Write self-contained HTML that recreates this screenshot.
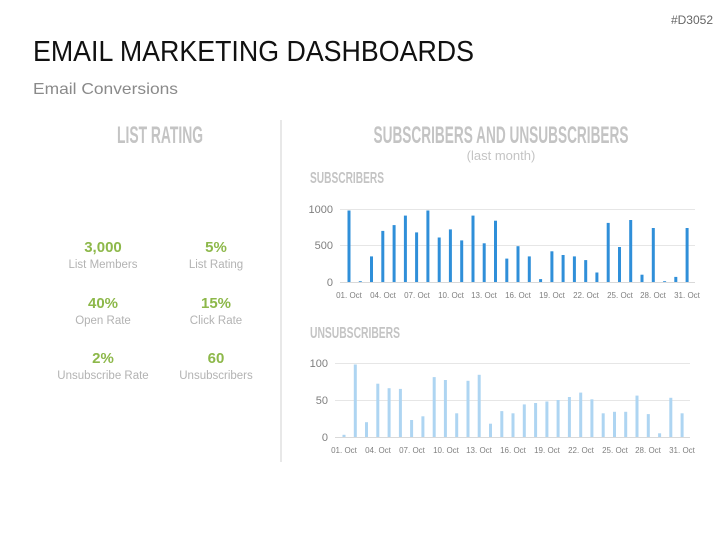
<!DOCTYPE html>
<html><head><meta charset="utf-8"><style>
html,body{margin:0;padding:0;background:#fff;width:727px;height:545px;overflow:hidden}
svg{display:block}
.h{font-family:"Liberation Sans Narrow","Liberation Sans",sans-serif;font-weight:bold;fill:#c4c4c4}
.v{font-family:"Liberation Sans",sans-serif;font-weight:bold;fill:#8db84a;font-size:15px}
.l{font-family:"Liberation Sans",sans-serif;fill:#b3b3b3;font-size:11.5px}
.t{font-family:"Liberation Sans",sans-serif;fill:#7f7f7f;font-size:8px}
.y{font-family:"Liberation Sans",sans-serif;fill:#7f7f7f;font-size:11px}
</style></head><body>
<svg width="727" height="545" viewBox="0 0 727 545">
<text x="713" y="24" text-anchor="end" font-family="Liberation Sans Narrow,Liberation Sans,sans-serif" font-size="12" fill="#666">#D3052</text>
<text x="33" y="61" font-family="Liberation Sans,sans-serif" font-size="29" fill="#111" textLength="441" lengthAdjust="spacingAndGlyphs">EMAIL MARKETING DASHBOARDS</text>
<text x="33" y="94" font-family="Liberation Sans,sans-serif" font-size="16" fill="#8a8a8a" textLength="145" lengthAdjust="spacingAndGlyphs">Email Conversions</text>
<line x1="281" y1="120" x2="281" y2="462" stroke="#d0d0d0" stroke-width="1"/>
<text class="h" x="160" y="143" font-size="24" text-anchor="middle" textLength="86" lengthAdjust="spacingAndGlyphs">LIST RATING</text>
<text class="h" x="501" y="143" font-size="24" text-anchor="middle" textLength="255" lengthAdjust="spacingAndGlyphs">SUBSCRIBERS AND UNSUBSCRIBERS</text>
<text x="501" y="160" text-anchor="middle" font-family="Liberation Sans,sans-serif" font-size="13" fill="#c4c4c4">(last month)</text>
<text class="h" x="310" y="183" font-size="16" textLength="74" lengthAdjust="spacingAndGlyphs">SUBSCRIBERS</text>
<text class="h" x="310" y="338" font-size="16" textLength="90" lengthAdjust="spacingAndGlyphs">UNSUBSCRIBERS</text>

<text class="v" x="103" y="252" text-anchor="middle">3,000</text><text class="l" x="103" y="268" text-anchor="middle">List Members</text>
<text class="v" x="216" y="252" text-anchor="middle">5%</text><text class="l" x="216" y="268" text-anchor="middle">List Rating</text>
<text class="v" x="103" y="308" text-anchor="middle">40%</text><text class="l" x="103" y="324" text-anchor="middle">Open Rate</text>
<text class="v" x="216" y="308" text-anchor="middle">15%</text><text class="l" x="216" y="324" text-anchor="middle">Click Rate</text>
<text class="v" x="103" y="363" text-anchor="middle">2%</text><text class="l" x="103" y="379" text-anchor="middle">Unsubscribe Rate</text>
<text class="v" x="216" y="363" text-anchor="middle">60</text><text class="l" x="216" y="379" text-anchor="middle">Unsubscribers</text>

<g stroke="#e6e6e6" stroke-width="1">
<line x1="340" y1="209.5" x2="695" y2="209.5"/><line x1="340" y1="245.5" x2="695" y2="245.5"/><line x1="340" y1="282.5" x2="695" y2="282.5" stroke="#d9d9d9"/>
<line x1="335" y1="363.5" x2="690" y2="363.5"/><line x1="335" y1="400.5" x2="690" y2="400.5"/><line x1="335" y1="437.5" x2="690" y2="437.5" stroke="#d9d9d9"/>
</g>
<text class="y" x="333" y="213" text-anchor="end">1000</text>
<text class="y" x="333" y="249" text-anchor="end">500</text>
<text class="y" x="333" y="286" text-anchor="end">0</text>
<text class="y" x="328" y="367" text-anchor="end">100</text>
<text class="y" x="328" y="404" text-anchor="end">50</text>
<text class="y" x="328" y="441" text-anchor="end">0</text>
<g transform="translate(0,282) scale(1,-1)" fill="#2f8fd9">
<rect x="347.5" y="0" width="3" height="71.5"/><rect x="358.8" y="0" width="3" height="0.8"/><rect x="370" y="0" width="3" height="25.6"/><rect x="381.3" y="0" width="3" height="51.1"/><rect x="392.6" y="0" width="3" height="56.9"/><rect x="403.9" y="0" width="3" height="66.4"/><rect x="415.1" y="0" width="3" height="49.6"/><rect x="426.4" y="0" width="3" height="71.5"/><rect x="437.7" y="0" width="3" height="44.5"/><rect x="448.9" y="0" width="3" height="52.6"/><rect x="460.2" y="0" width="3" height="41.6"/><rect x="471.5" y="0" width="3" height="66.4"/><rect x="482.7" y="0" width="3" height="38.7"/><rect x="494" y="0" width="3" height="61.3"/><rect x="505.3" y="0" width="3" height="23.4"/><rect x="516.5" y="0" width="3" height="35.8"/><rect x="527.8" y="0" width="3" height="25.6"/><rect x="539.1" y="0" width="3" height="2.9"/><rect x="550.4" y="0" width="3" height="30.7"/><rect x="561.6" y="0" width="3" height="27"/><rect x="572.9" y="0" width="3" height="25.6"/><rect x="584.2" y="0" width="3" height="21.9"/><rect x="595.4" y="0" width="3" height="9.5"/><rect x="606.7" y="0" width="3" height="59.1"/><rect x="618" y="0" width="3" height="35"/><rect x="629.2" y="0" width="3" height="62"/><rect x="640.5" y="0" width="3" height="7.3"/><rect x="651.8" y="0" width="3" height="54"/><rect x="663.1" y="0" width="3" height="0.8"/><rect x="674.3" y="0" width="3" height="5.1"/><rect x="685.6" y="0" width="3" height="54"/>
</g>
<g class="t" text-anchor="middle">
<text x="349" y="298">01. Oct</text><text x="383" y="298">04. Oct</text><text x="417" y="298">07. Oct</text><text x="451" y="298">10. Oct</text><text x="484" y="298">13. Oct</text><text x="518" y="298">16. Oct</text><text x="552" y="298">19. Oct</text><text x="586" y="298">22. Oct</text><text x="620" y="298">25. Oct</text><text x="653" y="298">28. Oct</text><text x="687" y="298">31. Oct</text>
</g>
<g transform="translate(0,437) scale(1,-1)" fill="#aed5f2">
<rect x="342.5" y="0" width="3" height="2.2"/><rect x="353.8" y="0" width="3" height="72.5"/><rect x="365" y="0" width="3" height="14.8"/><rect x="376.3" y="0" width="3" height="53.3"/><rect x="387.6" y="0" width="3" height="48.8"/><rect x="398.9" y="0" width="3" height="48.1"/><rect x="410.1" y="0" width="3" height="17"/><rect x="421.4" y="0" width="3" height="20.7"/><rect x="432.7" y="0" width="3" height="59.9"/><rect x="443.9" y="0" width="3" height="57"/><rect x="455.2" y="0" width="3" height="23.7"/><rect x="466.5" y="0" width="3" height="56.2"/><rect x="477.7" y="0" width="3" height="62.2"/><rect x="489" y="0" width="3" height="13.3"/><rect x="500.3" y="0" width="3" height="25.9"/><rect x="511.5" y="0" width="3" height="23.7"/><rect x="522.8" y="0" width="3" height="32.6"/><rect x="534.1" y="0" width="3" height="34"/><rect x="545.4" y="0" width="3" height="35.5"/><rect x="556.6" y="0" width="3" height="37"/><rect x="567.9" y="0" width="3" height="40"/><rect x="579.2" y="0" width="3" height="44.4"/><rect x="590.4" y="0" width="3" height="37.7"/><rect x="601.7" y="0" width="3" height="23.7"/><rect x="613" y="0" width="3" height="25.2"/><rect x="624.2" y="0" width="3" height="25.2"/><rect x="635.5" y="0" width="3" height="41.4"/><rect x="646.8" y="0" width="3" height="22.9"/><rect x="658.1" y="0" width="3" height="3.7"/><rect x="669.3" y="0" width="3" height="39.2"/><rect x="680.6" y="0" width="3" height="23.7"/>
</g>
<g class="t" text-anchor="middle">
<text x="344" y="453">01. Oct</text><text x="378" y="453">04. Oct</text><text x="412" y="453">07. Oct</text><text x="446" y="453">10. Oct</text><text x="479" y="453">13. Oct</text><text x="513" y="453">16. Oct</text><text x="547" y="453">19. Oct</text><text x="581" y="453">22. Oct</text><text x="615" y="453">25. Oct</text><text x="648" y="453">28. Oct</text><text x="682" y="453">31. Oct</text>
</g>
</svg>
</body></html>
